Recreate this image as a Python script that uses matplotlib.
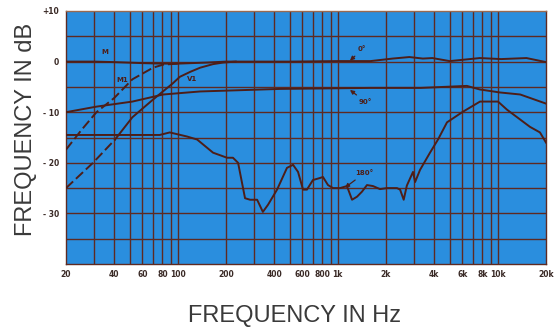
import numpy as np
import matplotlib
matplotlib.use("Agg")
import matplotlib.pyplot as plt

# response curves (Hz, dB)
freq_0 = [20, 30, 40, 60, 80, 100, 150, 200, 500, 1000, 1600, 2200, 2800, 3400, 3900, 5000,
          6700, 7700, 10500, 15100, 20000]
db_0 = [0, 0, -0.1, -0.3, -0.4, -0.4, -0.2, 0, 0, 0.1, 0.1, 0.6, 0.9, 0.6, 0.7, 0.1,
        0.5, 0.7, 0.5, 0.7, -0.1]

freq_m1 = [20, 25, 31, 40, 52, 70, 81, 100]
db_m1 = [-17.4, -13.5, -10, -7.2, -3.5, -1.2, -0.6, -0.4]

freq_v1 = [20, 29.5, 40.5, 52, 70, 93, 103, 120, 138, 166, 191, 230]
db_v1 = [-25, -20, -15.4, -11, -7.5, -4.3, -3.0, -2.0, -1.2, -0.5, -0.2, 0]

freq_90 = [20, 31, 52, 81, 138, 435, 1600, 3300, 6400, 7700, 10300, 13800, 20000]
db_90 = [-10, -8.9, -7.9, -6.5, -5.9, -5.4, -5.2, -5.2, -4.8, -5.5, -6.1, -6.5, -8.3]

freq_180 = [20, 77, 89, 114, 132, 166, 203, 221, 238, 263, 283, 313, 340, 366, 417, 481,
            525, 564, 606, 641, 699, 774, 807, 868, 933, 1032, 1140, 1227, 1318, 1416,
            1521, 1659, 1835, 2029, 2343, 2450, 2580, 2700, 2950, 3040, 3264, 3767, 4227,
            4812, 6055, 7737, 10024, 11410, 15886, 18340, 20000]
db_180 = [-14.5, -14.5, -14.0, -14.8, -15.4, -18, -19, -19, -20, -27, -27.3, -27.3, -29.7,
          -28.3, -25.3, -21, -20.4, -21.8, -25.3, -25.3, -23.4, -23, -22.8, -24.4, -25, -25,
          -24.6, -27.3, -26.7, -25.7, -24.4, -24.6, -25.2, -25, -25, -25.3, -27.3, -24.5,
          -21.8, -23.8, -21.4, -18, -15.4, -12, -9.9, -7.9, -7.9, -9.5, -12.9, -14, -16]

xtick_vals = [20, 40, 60, 80, 100, 200, 400, 600, 800, 1000, 2000, 4000, 6000, 8000, 10000, 20000]
xtick_text = ["20", "40", "60", "80", "100", "200", "400", "600", "800", "1k", "2k", "4k",
              "6k", "8k", "10k", "20k"]
ytick_vals = [10, 0, -10, -20, -30]
ytick_text = ["+10", "0", "- 10", "- 20", "- 30"]

blue = "#2a8ede"
maroon = "#4d1e18"
grid_c = "#5e2a22"

fig = plt.figure(figsize=(5.55, 3.35), dpi=100)
ax = fig.add_axes([66 / 555, 1 - 264 / 335, 480 / 555, 253 / 335])
ax.set_facecolor(blue)
ax.set_xscale("log")
ax.set_xlim(20, 20000)
ax.set_ylim(-40, 10)

# grid: every 1..9 per decade, every 5 dB
vlines = [m * 10 ** d for d in range(1, 5) for m in range(1, 10)]
for v in vlines:
    if 20 < v < 20000:
        ax.axvline(v, color=grid_c, lw=1.0, zorder=1)
for h in np.arange(-35, 10, 5):
    ax.axhline(h, color=grid_c, lw=1.0, zorder=1)

lw = 1.4
ax.plot(freq_0, db_0, color=maroon, lw=lw, zorder=3)
ax.plot(freq_90, db_90, color=maroon, lw=lw, zorder=3)
ax.plot(freq_180, db_180, color=maroon, lw=lw, zorder=3)
ax.plot(freq_m1, db_m1, color=maroon, lw=lw, ls=(0, (5, 2)), zorder=3)
ax.plot(freq_v1[:3], db_v1[:3], color=maroon, lw=lw, ls=(0, (5, 2)), zorder=3)
ax.plot(freq_v1[2:], db_v1[2:], color=maroon, lw=lw, zorder=3)

small = dict(fontsize=5, color=maroon, fontweight="bold", family="DejaVu Sans")
ax.text(35, 1.8, "M", ha="center", va="center", **small)
ax.text(44.8, -3.6, "M1", ha="center", va="center", **small)
ax.text(122, -3.4, "V1", ha="center", va="center", **small)

arrow = dict(arrowstyle="-|>", color=maroon, lw=0.9, mutation_scale=6, shrinkA=1, shrinkB=0)
ax.annotate("0°", xy=(1191, 0.2), xytext=(1420, 2.4), ha="center", va="center",
            arrowprops=arrow, **small)
ax.annotate("90°", xy=(1191, -5.6), xytext=(1480, -7.9), ha="center", va="center",
            arrowprops=arrow, **small)
ax.annotate("180°", xy=(1108, -24.9), xytext=(1460, -22.1), ha="center", va="center",
            arrowprops=arrow, **small)

ax.set_xticks(xtick_vals)
ax.set_xticklabels(xtick_text)
ax.xaxis.set_minor_locator(matplotlib.ticker.NullLocator())
ax.set_yticks(ytick_vals)
ax.set_yticklabels(ytick_text)
ax.tick_params(length=0, labelsize=5.5, labelcolor="#3a2a26")
ax.tick_params(axis="x", pad=4)
ax.tick_params(axis="y", pad=5)
for lab in ax.get_xticklabels() + ax.get_yticklabels():
    lab.set_fontweight("bold")

for s in ax.spines.values():
    s.set_color(grid_c)
    s.set_linewidth(1.0)
ax.spines["top"].set_color("#9a6a50")

big = dict(fontsize=17, color="#3a3a3a", family="Liberation Sans")
fig.text(295 / 555, 1 - 316 / 335, "FREQUENCY IN Hz", ha="center", va="center", **big)
fig.text(26 / 555, 1 - 129 / 335, "FREQUENCY IN dB", ha="center", va="center",
         rotation=90, **big)

fig.savefig("out.png", dpi=100, facecolor="white")
